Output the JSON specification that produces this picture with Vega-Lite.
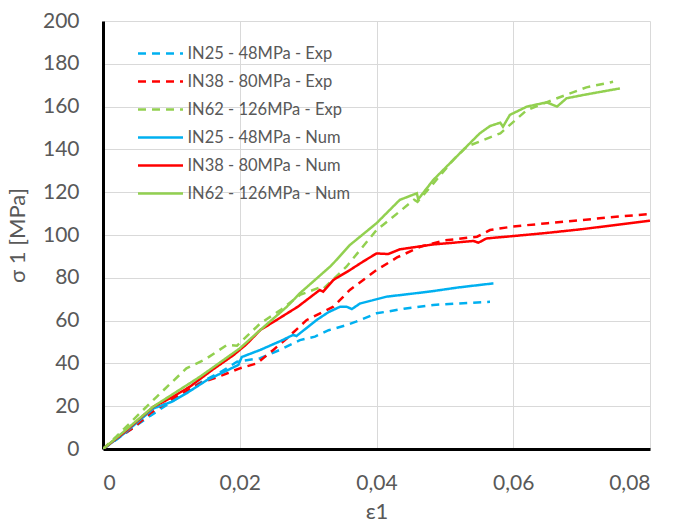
{
  "$schema": "https://vega.github.io/schema/vega-lite/v6.json",
  "width": 547,
  "height": 428,
  "autosize": "none",
  "padding": {"left": 103, "top": 21, "right": 25, "bottom": 77},
  "background": "white",
  "config": {
    "font": "Lato",
    "view": {"stroke": null},
    "axis": {"labelColor": "#595959", "titleColor": "#595959", "labelFont": "Lato", "titleFont": "Lato", "titleFontWeight": "normal"}
  },
  "datasets": {
    "curves": [
      {"s": "IN25 - 48MPa - Exp", "x": 0, "y": 0}, {"s": "IN25 - 48MPa - Exp", "x": 0.002, "y": 4.5}, {"s": "IN25 - 48MPa - Exp", "x": 0.004, "y": 9}, {"s": "IN25 - 48MPa - Exp", "x": 0.0069, "y": 15.5}, {"s": "IN25 - 48MPa - Exp", "x": 0.01, "y": 22}, {"s": "IN25 - 48MPa - Exp", "x": 0.0142, "y": 31}, {"s": "IN25 - 48MPa - Exp", "x": 0.0175, "y": 36.5}, {"s": "IN25 - 48MPa - Exp", "x": 0.0196, "y": 40.8}, {"s": "IN25 - 48MPa - Exp", "x": 0.021, "y": 41.5}, {"s": "IN25 - 48MPa - Exp", "x": 0.023, "y": 42.4}, {"s": "IN25 - 48MPa - Exp", "x": 0.026, "y": 46.5}, {"s": "IN25 - 48MPa - Exp", "x": 0.0288, "y": 50.9}, {"s": "IN25 - 48MPa - Exp", "x": 0.031, "y": 52.5}, {"s": "IN25 - 48MPa - Exp", "x": 0.033, "y": 55.5}, {"s": "IN25 - 48MPa - Exp", "x": 0.0356, "y": 57.9}, {"s": "IN25 - 48MPa - Exp", "x": 0.037, "y": 59.5}, {"s": "IN25 - 48MPa - Exp", "x": 0.04, "y": 63.4}, {"s": "IN25 - 48MPa - Exp", "x": 0.044, "y": 65.5}, {"s": "IN25 - 48MPa - Exp", "x": 0.0483, "y": 67.3}, {"s": "IN25 - 48MPa - Exp", "x": 0.052, "y": 68}, {"s": "IN25 - 48MPa - Exp", "x": 0.0566, "y": 68.8},

      {"s": "IN38 - 80MPa - Exp", "x": 0, "y": 0}, {"s": "IN38 - 80MPa - Exp", "x": 0.002, "y": 5}, {"s": "IN38 - 80MPa - Exp", "x": 0.0045, "y": 10}, {"s": "IN38 - 80MPa - Exp", "x": 0.0069, "y": 16.7}, {"s": "IN38 - 80MPa - Exp", "x": 0.01, "y": 23}, {"s": "IN38 - 80MPa - Exp", "x": 0.0142, "y": 30.7}, {"s": "IN38 - 80MPa - Exp", "x": 0.0175, "y": 34.5}, {"s": "IN38 - 80MPa - Exp", "x": 0.02, "y": 37.7}, {"s": "IN38 - 80MPa - Exp", "x": 0.0225, "y": 40}, {"s": "IN38 - 80MPa - Exp", "x": 0.0249, "y": 46.3}, {"s": "IN38 - 80MPa - Exp", "x": 0.027, "y": 52}, {"s": "IN38 - 80MPa - Exp", "x": 0.0298, "y": 60.3}, {"s": "IN38 - 80MPa - Exp", "x": 0.0337, "y": 66.5}, {"s": "IN38 - 80MPa - Exp", "x": 0.0361, "y": 74.3}, {"s": "IN38 - 80MPa - Exp", "x": 0.04, "y": 83.6}, {"s": "IN38 - 80MPa - Exp", "x": 0.043, "y": 89.5}, {"s": "IN38 - 80MPa - Exp", "x": 0.0464, "y": 94.5}, {"s": "IN38 - 80MPa - Exp", "x": 0.05, "y": 97.5}, {"s": "IN38 - 80MPa - Exp", "x": 0.0547, "y": 99.2}, {"s": "IN38 - 80MPa - Exp", "x": 0.0566, "y": 102.3}, {"s": "IN38 - 80MPa - Exp", "x": 0.06, "y": 104}, {"s": "IN38 - 80MPa - Exp", "x": 0.065, "y": 105.5}, {"s": "IN38 - 80MPa - Exp", "x": 0.07, "y": 107}, {"s": "IN38 - 80MPa - Exp", "x": 0.075, "y": 108.5}, {"s": "IN38 - 80MPa - Exp", "x": 0.08, "y": 109.8},

      {"s": "IN62 - 126MPa - Exp", "x": 0, "y": 0}, {"s": "IN62 - 126MPa - Exp", "x": 0.002, "y": 6}, {"s": "IN62 - 126MPa - Exp", "x": 0.0044, "y": 13.6}, {"s": "IN62 - 126MPa - Exp", "x": 0.00785, "y": 24.4}, {"s": "IN62 - 126MPa - Exp", "x": 0.0122, "y": 37.7}, {"s": "IN62 - 126MPa - Exp", "x": 0.015, "y": 42}, {"s": "IN62 - 126MPa - Exp", "x": 0.0181, "y": 48.6}, {"s": "IN62 - 126MPa - Exp", "x": 0.0196, "y": 48.3}, {"s": "IN62 - 126MPa - Exp", "x": 0.023, "y": 58.7}, {"s": "IN62 - 126MPa - Exp", "x": 0.026, "y": 65}, {"s": "IN62 - 126MPa - Exp", "x": 0.0288, "y": 72}, {"s": "IN62 - 126MPa - Exp", "x": 0.0317, "y": 75.5}, {"s": "IN62 - 126MPa - Exp", "x": 0.0322, "y": 74.8}, {"s": "IN62 - 126MPa - Exp", "x": 0.0356, "y": 85.2}, {"s": "IN62 - 126MPa - Exp", "x": 0.04, "y": 102.3}, {"s": "IN62 - 126MPa - Exp", "x": 0.043, "y": 110}, {"s": "IN62 - 126MPa - Exp", "x": 0.0455, "y": 116.5}, {"s": "IN62 - 126MPa - Exp", "x": 0.046, "y": 115.5}, {"s": "IN62 - 126MPa - Exp", "x": 0.0483, "y": 124}, {"s": "IN62 - 126MPa - Exp", "x": 0.0512, "y": 135}, {"s": "IN62 - 126MPa - Exp", "x": 0.0532, "y": 141.3}, {"s": "IN62 - 126MPa - Exp", "x": 0.0581, "y": 147.5}, {"s": "IN62 - 126MPa - Exp", "x": 0.062, "y": 158.4}, {"s": "IN62 - 126MPa - Exp", "x": 0.0664, "y": 163.9}, {"s": "IN62 - 126MPa - Exp", "x": 0.0707, "y": 169}, {"s": "IN62 - 126MPa - Exp", "x": 0.0746, "y": 171.6},

      {"s": "IN25 - 48MPa - Num", "x": 0, "y": 0}, {"s": "IN25 - 48MPa - Num", "x": 0.003, "y": 7}, {"s": "IN25 - 48MPa - Num", "x": 0.0074, "y": 19}, {"s": "IN25 - 48MPa - Num", "x": 0.01, "y": 22}, {"s": "IN25 - 48MPa - Num", "x": 0.0122, "y": 26}, {"s": "IN25 - 48MPa - Num", "x": 0.0152, "y": 32.2}, {"s": "IN25 - 48MPa - Num", "x": 0.018, "y": 36.5}, {"s": "IN25 - 48MPa - Num", "x": 0.0198, "y": 39.3}, {"s": "IN25 - 48MPa - Num", "x": 0.0203, "y": 43}, {"s": "IN25 - 48MPa - Num", "x": 0.023, "y": 46.3}, {"s": "IN25 - 48MPa - Num", "x": 0.026, "y": 50.5}, {"s": "IN25 - 48MPa - Num", "x": 0.0278, "y": 53.3}, {"s": "IN25 - 48MPa - Num", "x": 0.0283, "y": 52.8}, {"s": "IN25 - 48MPa - Num", "x": 0.03125, "y": 60.3}, {"s": "IN25 - 48MPa - Num", "x": 0.033, "y": 64}, {"s": "IN25 - 48MPa - Num", "x": 0.0347, "y": 66.5}, {"s": "IN25 - 48MPa - Num", "x": 0.0356, "y": 66.5}, {"s": "IN25 - 48MPa - Num", "x": 0.0364, "y": 65.4}, {"s": "IN25 - 48MPa - Num", "x": 0.0376, "y": 68}, {"s": "IN25 - 48MPa - Num", "x": 0.0415, "y": 71.2}, {"s": "IN25 - 48MPa - Num", "x": 0.045, "y": 72.5}, {"s": "IN25 - 48MPa - Num", "x": 0.0483, "y": 73.8}, {"s": "IN25 - 48MPa - Num", "x": 0.052, "y": 75.5}, {"s": "IN25 - 48MPa - Num", "x": 0.0571, "y": 77.4},

      {"s": "IN38 - 80MPa - Num", "x": 0, "y": 0}, {"s": "IN38 - 80MPa - Num", "x": 0.003, "y": 7.5}, {"s": "IN38 - 80MPa - Num", "x": 0.0074, "y": 19.8}, {"s": "IN38 - 80MPa - Num", "x": 0.01, "y": 24}, {"s": "IN38 - 80MPa - Num", "x": 0.0127, "y": 29.1}, {"s": "IN38 - 80MPa - Num", "x": 0.016, "y": 37}, {"s": "IN38 - 80MPa - Num", "x": 0.0191, "y": 43.9}, {"s": "IN38 - 80MPa - Num", "x": 0.021, "y": 49}, {"s": "IN38 - 80MPa - Num", "x": 0.023, "y": 55.6}, {"s": "IN38 - 80MPa - Num", "x": 0.0254, "y": 60.3}, {"s": "IN38 - 80MPa - Num", "x": 0.0285, "y": 66.5}, {"s": "IN38 - 80MPa - Num", "x": 0.0317, "y": 74.3}, {"s": "IN38 - 80MPa - Num", "x": 0.0322, "y": 73.5}, {"s": "IN38 - 80MPa - Num", "x": 0.0337, "y": 79}, {"s": "IN38 - 80MPa - Num", "x": 0.0361, "y": 83.6}, {"s": "IN38 - 80MPa - Num", "x": 0.038, "y": 87.5}, {"s": "IN38 - 80MPa - Num", "x": 0.04, "y": 91.4}, {"s": "IN38 - 80MPa - Num", "x": 0.0417, "y": 91.1}, {"s": "IN38 - 80MPa - Num", "x": 0.0434, "y": 93.3}, {"s": "IN38 - 80MPa - Num", "x": 0.0483, "y": 95.6}, {"s": "IN38 - 80MPa - Num", "x": 0.0542, "y": 97.2}, {"s": "IN38 - 80MPa - Num", "x": 0.0549, "y": 96.4}, {"s": "IN38 - 80MPa - Num", "x": 0.0561, "y": 98.4}, {"s": "IN38 - 80MPa - Num", "x": 0.06, "y": 99.5}, {"s": "IN38 - 80MPa - Num", "x": 0.065, "y": 101}, {"s": "IN38 - 80MPa - Num", "x": 0.07, "y": 102.7}, {"s": "IN38 - 80MPa - Num", "x": 0.075, "y": 104.7}, {"s": "IN38 - 80MPa - Num", "x": 0.08, "y": 106.7},

      {"s": "IN62 - 126MPa - Num", "x": 0, "y": 0}, {"s": "IN62 - 126MPa - Num", "x": 0.003, "y": 8}, {"s": "IN62 - 126MPa - Num", "x": 0.00736, "y": 19.8}, {"s": "IN62 - 126MPa - Num", "x": 0.0142, "y": 33.8}, {"s": "IN62 - 126MPa - Num", "x": 0.02, "y": 47}, {"s": "IN62 - 126MPa - Num", "x": 0.0235, "y": 57}, {"s": "IN62 - 126MPa - Num", "x": 0.0269, "y": 66.5}, {"s": "IN62 - 126MPa - Num", "x": 0.0288, "y": 72.8}, {"s": "IN62 - 126MPa - Num", "x": 0.0332, "y": 85.2}, {"s": "IN62 - 126MPa - Num", "x": 0.0337, "y": 86.8}, {"s": "IN62 - 126MPa - Num", "x": 0.0361, "y": 95.3}, {"s": "IN62 - 126MPa - Num", "x": 0.04, "y": 105.5}, {"s": "IN62 - 126MPa - Num", "x": 0.0434, "y": 116.4}, {"s": "IN62 - 126MPa - Num", "x": 0.0459, "y": 119.5}, {"s": "IN62 - 126MPa - Num", "x": 0.0461, "y": 116.7}, {"s": "IN62 - 126MPa - Num", "x": 0.0483, "y": 125.7}, {"s": "IN62 - 126MPa - Num", "x": 0.0522, "y": 138.2}, {"s": "IN62 - 126MPa - Num", "x": 0.0551, "y": 147.5}, {"s": "IN62 - 126MPa - Num", "x": 0.0566, "y": 150.9}, {"s": "IN62 - 126MPa - Num", "x": 0.0581, "y": 152.5}, {"s": "IN62 - 126MPa - Num", "x": 0.0585, "y": 150.6}, {"s": "IN62 - 126MPa - Num", "x": 0.0595, "y": 156.1}, {"s": "IN62 - 126MPa - Num", "x": 0.062, "y": 160}, {"s": "IN62 - 126MPa - Num", "x": 0.0649, "y": 162}, {"s": "IN62 - 126MPa - Num", "x": 0.0664, "y": 160}, {"s": "IN62 - 126MPa - Num", "x": 0.0678, "y": 163.9}, {"s": "IN62 - 126MPa - Num", "x": 0.0707, "y": 165.7}, {"s": "IN62 - 126MPa - Num", "x": 0.0756, "y": 168.5}
    ]
  },
  "data": {"name": "curves"},
  "mark": {"type": "line", "strokeWidth": 2.5, "clip": true},
  "encoding": {
    "x": {
      "field": "x", "type": "quantitative",
      "scale": {"domain": [0, 0.08], "nice": false},
      "axis": {
        "title": "ε1", "titleFontSize": 22, "titlePadding": 8,
        "values": [0, 0.02, 0.04, 0.06, 0.08],
        "labelExpr": "datum.value == 0 ? '0' : replace(format(datum.value, '.2f'), '.', ',')",
        "labelFontSize": 21, "labelPadding": 23, "ticks": false,
        "domainColor": "black", "domainWidth": 3,
        "grid": true, "gridColor": "#D9D9D9", "gridWidth": 1
      }
    },
    "y": {
      "field": "y", "type": "quantitative",
      "scale": {"domain": [0, 200], "nice": false},
      "axis": {
        "title": "σ 1 [MPa]", "titleFontSize": 22, "titlePadding": 13,
        "values": [0, 20, 40, 60, 80, 100, 120, 140, 160, 180, 200],
        "labelFontSize": 21, "labelPadding": 24, "ticks": false,
        "domainColor": "black", "domainWidth": 3,
        "grid": true, "gridColor": "#D9D9D9", "gridWidth": 1
      }
    },
    "color": {
      "field": "s", "type": "nominal",
      "scale": {
        "domain": ["IN25 - 48MPa - Exp", "IN38 - 80MPa - Exp", "IN62 - 126MPa - Exp", "IN25 - 48MPa - Num", "IN38 - 80MPa - Num", "IN62 - 126MPa - Num"],
        "range": ["#00B0F0", "#FF0000", "#92D050", "#00B0F0", "#FF0000", "#92D050"]
      },
      "legend": {
        "title": null, "orient": "none", "legendX": 45, "legendY": 20,
        "symbolType": "M-2,0H2", "symbolSize": 506, "symbolStrokeWidth": 2.5,
        "labelFontSize": 16.5, "labelColor": "#595959", "labelFont": "Lato", "labelOffset": 14.5, "labelLimit": 400, "rowPadding": 7
      }
    },
    "strokeDash": {
      "field": "s", "type": "nominal",
      "scale": {
        "domain": ["IN25 - 48MPa - Exp", "IN38 - 80MPa - Exp", "IN62 - 126MPa - Exp", "IN25 - 48MPa - Num", "IN38 - 80MPa - Num", "IN62 - 126MPa - Num"],
        "range": [[8, 6], [8, 6], [8, 6], [1, 0], [1, 0], [1, 0]]
      },
      "legend": {
        "title": null, "orient": "none", "legendX": 45, "legendY": 20,
        "symbolType": "M-2,0H2", "symbolSize": 506, "symbolStrokeWidth": 2.5,
        "labelFontSize": 16.5, "labelColor": "#595959", "labelFont": "Lato", "labelOffset": 14.5, "labelLimit": 400, "rowPadding": 7
      }
    }
  }
}
